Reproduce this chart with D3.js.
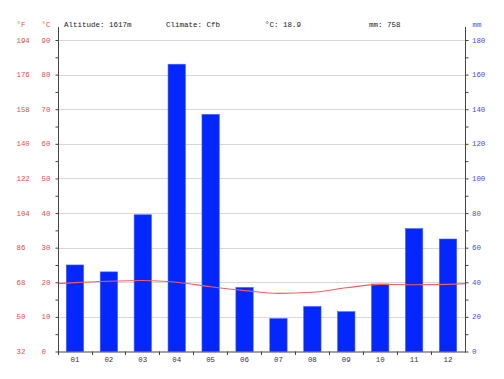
<!DOCTYPE html>
<html>
<head>
<meta charset="utf-8">
<script src="https://cdn.jsdelivr.net/npm/d3@7"></script>
<style>
  html, body { margin: 0; padding: 0; background: #fff; }
  svg { display: block; }
</style>
</head>
<body>
<svg id="chart" width="504" height="379"></svg>
<script>
const months = ["01","02","03","04","05","06","07","08","09","10","11","12"];
const precipitation = [50, 46, 79, 166, 137, 37, 19, 26, 23, 39, 71, 65];
const temperature = [19.9, 20.3, 20.5, 20.0, 18.7, 17.6, 16.8, 17.1, 18.4, 19.4, 19.3, 19.4];
const tempEdges = [19.6, 19.6];
const celsiusTicks = [0, 10, 20, 30, 40, 50, 60, 70, 80, 90];
const fahrenheitLabels = ["32", "50", "68", "86", "104", "122", "140", "158", "176", "194"];
const mmTicks = [0, 20, 40, 60, 80, 100, 120, 140, 160, 180];
const header = ["Altitude: 1617m", "Climate: Cfb", "°C: 18.9", "mm: 758"];

(function () {
const svg = d3.select("#chart");
const pl = 58, pr = 465, pt = 40, pb = 351.5;

const x = d3.scaleBand().domain(months).range([pl, pr]).paddingInner(0.49).paddingOuter(0.245);
const yT = d3.scaleLinear().domain([0, 90]).range([pb, pt]);
const yP = d3.scaleLinear().domain([0, 180]).range([pb, pt]);

const red = "#e84a4a", blue = "#3a4cf0", axisCol = "#444";
const mono = "'Liberation Mono', 'DejaVu Sans Mono', monospace";
const fs = 7.4;

// gridlines
svg.append("g").selectAll("line").data(celsiusTicks.slice(1)).join("line")
  .attr("x1", pl).attr("x2", pr)
  .attr("y1", d => Math.round(yT(d)) + 0.5).attr("y2", d => Math.round(yT(d)) + 0.5)
  .attr("stroke", "#d8d8d8").attr("stroke-width", 1);

// bars
svg.append("g").selectAll("rect").data(precipitation).join("rect")
  .attr("x", (d, i) => x(months[i]))
  .attr("width", x.bandwidth())
  .attr("y", d => yP(d))
  .attr("height", d => pb - yP(d))
  .attr("fill", "#0527ff")
  .attr("stroke", "#3f5cff").attr("stroke-width", 0.6);

// temperature line
const pts = [[pl, tempEdges[0]]]
  .concat(temperature.map((t, i) => [x(months[i]) + x.bandwidth() / 2, t]))
  .concat([[pr, tempEdges[1]]]);
svg.append("path").datum(pts)
  .attr("d", d3.line().x(d => d[0]).y(d => yT(d[1])).curve(d3.curveMonotoneX))
  .attr("fill", "none").attr("stroke", "#f06060").attr("stroke-width", 1.1);

// left axis (celsius)
const leftAxis = d3.axisLeft(yT).tickValues(d3.range(0, 95, 5)).tickSize(3).tickFormat("");
const gL = svg.append("g").attr("transform", `translate(${pl + 0.5},0)`).call(leftAxis);
gL.select(".domain").remove();
gL.selectAll("line").attr("stroke", axisCol);
svg.append("line").attr("x1", pl + 0.5).attr("x2", pl + 0.5).attr("y1", 27).attr("y2", pb + 1)
  .attr("stroke", axisCol);

// right axis (mm)
const rightAxis = d3.axisRight(yP).tickValues(d3.range(0, 190, 10)).tickSize(3).tickFormat("");
const gR = svg.append("g").attr("transform", `translate(${pr + 0.5},0)`).call(rightAxis);
gR.select(".domain").remove();
gR.selectAll("line").attr("stroke", axisCol);
svg.append("line").attr("x1", pr + 0.5).attr("x2", pr + 0.5).attr("y1", 27).attr("y2", pb + 1)
  .attr("stroke", axisCol);

// bottom axis
svg.append("line").attr("x1", pl).attr("x2", pr + 1).attr("y1", pb + 0.5).attr("y2", pb + 0.5)
  .attr("stroke", axisCol);
svg.append("g").selectAll("line").data(months).join("line")
  .attr("x1", d => Math.round(x(d) - x.bandwidth() * 0.5) + 0.5)
  .attr("x2", d => Math.round(x(d) - x.bandwidth() * 0.5) + 0.5)
  .attr("y1", pb).attr("y2", pb + 3.5)
  .attr("stroke", axisCol);
svg.append("g").selectAll("text").data(months).join("text")
  .attr("x", d => x(d) + x.bandwidth() / 2)
  .attr("y", 361.5)
  .attr("text-anchor", "middle")
  .attr("font-family", mono).attr("font-size", fs).attr("fill", "#333")
  .text(d => d);

// celsius labels
svg.append("g").selectAll("text").data(celsiusTicks).join("text")
  .attr("x", 41.5).attr("y", d => yT(d) + 2.6)
  .attr("font-family", mono).attr("font-size", fs).attr("fill", red)
  .text(d => d);
// fahrenheit labels
svg.append("g").selectAll("text").data(fahrenheitLabels).join("text")
  .attr("x", 16.5).attr("y", (d, i) => yT(celsiusTicks[i]) + 2.6)
  .attr("font-family", mono).attr("font-size", fs).attr("fill", red)
  .text(d => d);
// mm labels
svg.append("g").selectAll("text").data(mmTicks).join("text")
  .attr("x", 472).attr("y", d => yP(d) + 2.6)
  .attr("font-family", mono).attr("font-size", fs).attr("fill", blue)
  .text(d => d);

// unit headers
svg.append("text").attr("x", 16.5).attr("y", 26.5).attr("font-family", mono).attr("font-size", fs).attr("fill", red).text("°F");
svg.append("text").attr("x", 41.5).attr("y", 26.5).attr("font-family", mono).attr("font-size", fs).attr("fill", red).text("°C");
svg.append("text").attr("x", 472.5).attr("y", 26.5).attr("font-family", mono).attr("font-size", fs).attr("fill", blue).text("mm");

// header info
const hx = [64, 166, 265, 369];
svg.append("g").selectAll("text").data(header).join("text")
  .attr("x", (d, i) => hx[i]).attr("y", 26.5)
  .attr("font-family", mono).attr("font-size", 7.5).attr("fill", "#222")
  .text(d => d);
})();
</script>
</body>
</html>
